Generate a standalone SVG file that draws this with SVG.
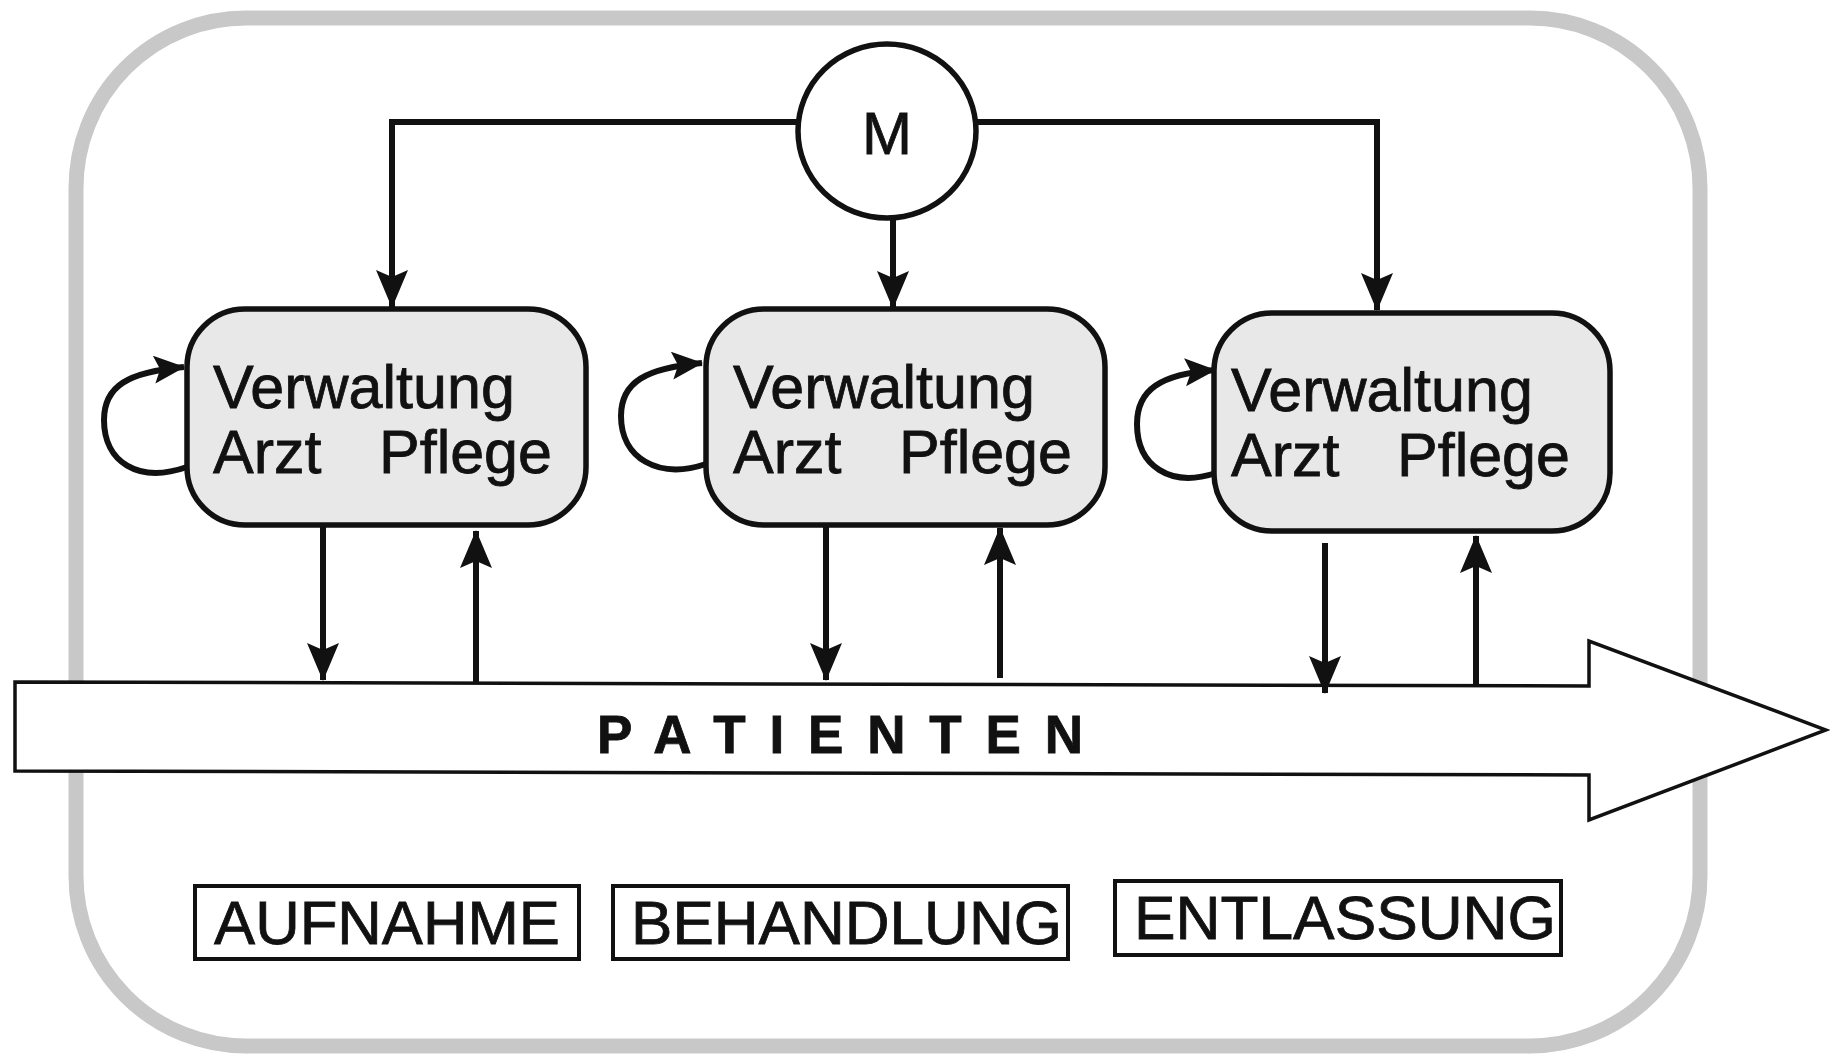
<svg xmlns="http://www.w3.org/2000/svg" width="1830" height="1060" viewBox="0 0 1830 1060">
<defs>
<style>
.frame{fill:#ffffff;stroke:#c8c8c8;stroke-width:15}
.box{fill:#e8e8e8;stroke:#111;stroke-width:5.5}
.lbl{fill:#ffffff;stroke:#111;stroke-width:4}
.ln{fill:none;stroke:#111;stroke-width:6}
.t{font-family:"Liberation Sans",Arial,sans-serif;fill:#111;stroke:#111;stroke-width:0.8}
.big{font-size:61px}
</style>
<marker id="ah" markerUnits="userSpaceOnUse" markerWidth="42" markerHeight="34" refX="37" refY="16" orient="auto">
<path d="M0,0 L38,16 L0,32 L7,16 z" fill="#111"/>
</marker>
<marker id="ahs" markerUnits="userSpaceOnUse" markerWidth="34" markerHeight="32" refX="30" refY="14" orient="auto">
<path d="M0,0 L31,14 L0,28 L6,14 z" fill="#111"/>
</marker>
</defs>
<rect width="1830" height="1060" fill="#ffffff"/>
<rect id="frame" class="frame" x="76" y="18" width="1624" height="1028" rx="170" ry="170"/>

<g id="patienten">
<polygon points="15,682 1589,686 1589,641 1826,730 1589,820 1589,775 15,771" fill="#ffffff" stroke="#111" stroke-width="3.5"/>
<text class="t" x="597" y="753" font-size="53" font-weight="bold" textLength="486" lengthAdjust="spacing">P A T I E N T E N</text>
</g>

<g id="connectors">
<polyline class="ln" points="797,122 392,122 392,307" marker-end="url(#ah)"/>
<polyline class="ln" points="977,122 1377,122 1377,310" marker-end="url(#ah)"/>
<line class="ln" x1="893" y1="220" x2="893" y2="308" marker-end="url(#ah)"/>
<line class="ln" x1="323" y1="527" x2="323" y2="680" marker-end="url(#ah)"/>
<line class="ln" x1="476" y1="684" x2="476" y2="531" marker-end="url(#ah)"/>
<line class="ln" x1="826" y1="527" x2="826" y2="680" marker-end="url(#ah)"/>
<line class="ln" x1="1000" y1="678" x2="1000" y2="528" marker-end="url(#ah)"/>
<line class="ln" x1="1325" y1="543" x2="1325" y2="693" marker-end="url(#ah)"/>
<line class="ln" x1="1476" y1="687" x2="1476" y2="536" marker-end="url(#ah)"/>
<path class="ln" d="M187,467 C138,484 104,462 104,420 C104,386 128,372 184,367" marker-end="url(#ahs)"/>
<path class="ln" d="M706,464 C658,480 621,458 621,416 C621,382 646,368 702,363" marker-end="url(#ahs)"/>
<path class="ln" d="M1216,473 C1170,488 1137,466 1137,424 C1137,390 1160,374 1215,370" marker-end="url(#ahs)"/>
</g>

<g id="m">
<ellipse cx="887" cy="131" rx="89" ry="87" fill="#ffffff" stroke="#111" stroke-width="5.5"/>
<text class="t" x="887" y="154" font-size="60" text-anchor="middle">M</text>
</g>

<g id="box1">
<rect class="box" x="187" y="309" width="399" height="216" rx="58" ry="58"/>
<text class="t big" x="213" y="408">Verwaltung</text>
<text class="t big" x="213" y="473">Arzt</text>
<text class="t big" x="379" y="473">Pflege</text>
</g>
<g id="box2">
<rect class="box" x="706" y="309" width="399" height="216" rx="58" ry="58"/>
<text class="t big" x="733" y="408">Verwaltung</text>
<text class="t big" x="733" y="473">Arzt</text>
<text class="t big" x="899" y="473">Pflege</text>
</g>
<g id="box3">
<rect class="box" x="1214" y="313" width="396" height="218" rx="58" ry="58"/>
<text class="t big" x="1231" y="411">Verwaltung</text>
<text class="t big" x="1231" y="476">Arzt</text>
<text class="t big" x="1397" y="476">Pflege</text>
</g>

<g id="aufnahme">
<rect class="lbl" x="195" y="886" width="384" height="73"/>
<text class="t big" x="214" y="944" textLength="346" lengthAdjust="spacingAndGlyphs">AUFNAHME</text>
</g>
<g id="behandlung">
<rect class="lbl" x="613" y="886" width="455" height="73"/>
<text class="t big" x="631" y="944" textLength="431" lengthAdjust="spacingAndGlyphs">BEHANDLUNG</text>
</g>
<g id="entlassung">
<rect class="lbl" x="1115" y="881" width="446" height="74"/>
<text class="t big" x="1134" y="939" textLength="422" lengthAdjust="spacingAndGlyphs">ENTLASSUNG</text>
</g>
</svg>
